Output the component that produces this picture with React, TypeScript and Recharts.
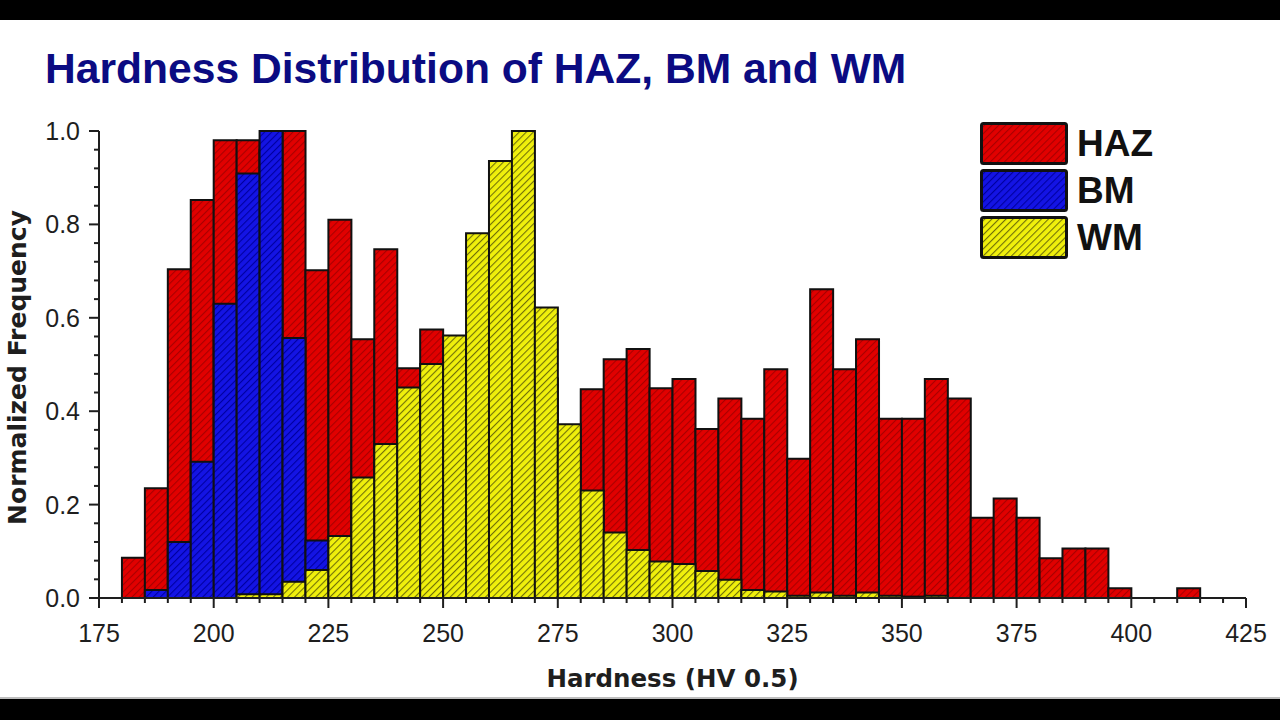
import React from 'react';
import { BarChart, Bar, XAxis, YAxis } from 'recharts';

// bin start values (HV 0.5), 5 HV wide
const bins = [
  175, 180, 185, 190, 195, 200, 205, 210, 215, 220,
  225, 230, 235, 240, 245, 250, 255, 260, 265, 270,
  275, 280, 285, 290, 295, 300, 305, 310, 315, 320,
  325, 330, 335, 340, 345, 350, 355, 360, 365, 370,
  375, 380, 385, 390, 395, 400, 405, 410, 415, 420,
];

const haz = [
  0, 0.086, 0.235, 0.704, 0.852, 0.98, 0.98, 0.96, 1.0, 0.702,
  0.81, 0.554, 0.747, 0.492, 0.575, 0.48, 0.52, 0.55, 0.52, 0.47,
  0.34, 0.447, 0.511, 0.533, 0.449, 0.469, 0.362, 0.427, 0.384, 0.49,
  0.298, 0.661, 0.49, 0.554, 0.384, 0.384, 0.469, 0.427, 0.172, 0.213,
  0.172, 0.085, 0.106, 0.106, 0.021, 0, 0, 0.021, 0, 0,
];

const bm = [
  0, 0, 0.017, 0.12, 0.292, 0.63, 0.909, 1.0, 0.557, 0.123,
  0, 0, 0, 0, 0, 0, 0, 0, 0, 0,
  0, 0, 0, 0, 0, 0, 0, 0, 0, 0,
  0, 0, 0, 0, 0, 0, 0, 0, 0, 0,
  0, 0, 0, 0, 0, 0, 0, 0, 0, 0,
];

const wm = [
  0, 0, 0, 0, 0, 0, 0.008, 0.008, 0.035, 0.06,
  0.133, 0.258, 0.33, 0.451, 0.501, 0.562, 0.781, 0.936, 1.0, 0.622,
  0.372, 0.23, 0.14, 0.103, 0.078, 0.073, 0.058, 0.039, 0.017, 0.014,
  0.005, 0.012, 0.005, 0.012, 0.005, 0.003, 0.005, 0, 0, 0,
  0, 0, 0, 0, 0, 0, 0, 0, 0, 0,
];

const xTicks = [
  175, 180, 185, 190, 195, 200, 205, 210, 215, 220, 225, 230, 235, 240, 245, 250,
  255, 260, 265, 270, 275, 280, 285, 290, 295, 300, 305, 310, 315, 320, 325, 330,
  335, 340, 345, 350, 355, 360, 365, 370, 375, 380, 385, 390, 395, 400, 405, 410,
  415, 420, 425,
];
const xMajor = [175, 200, 225, 250, 275, 300, 325, 350, 375, 400, 425];

const yTicks = [
  0, 0.04, 0.08, 0.12, 0.16, 0.2, 0.24, 0.28, 0.32, 0.36, 0.4, 0.44, 0.48,
  0.52, 0.56, 0.6, 0.64, 0.68, 0.72, 0.76, 0.8, 0.84, 0.88, 0.92, 0.96, 1.0,
];
const yMajor = [0, 0.2, 0.4, 0.6, 0.8, 1.0];

const series = [
  { key: 'haz', name: 'HAZ', fill: '#e10000', stripe: '#a80000' },
  { key: 'bm', name: 'BM', fill: '#1414e4', stripe: '#0000a0' },
  { key: 'wm', name: 'WM', fill: '#f0f00c', stripe: '#707008' },
];

const data = bins.map((b, i) => ({
  bin: b,
  center: b + 2.5,
  haz: haz[i],
  bm: bm[i],
  wm: wm[i],
}));

const FONT = '"Liberation Sans", Arial, Helvetica, sans-serif';
const WIDE = '"DejaVu Sans", Verdana, sans-serif';
const INK = '#1e1e1e';

const XTick = (props: any) => {
  const { x, y, payload } = props;
  const major = xMajor.includes(payload.value);
  return (
    <g>
      <line x1={x} x2={x} y1={y} y2={y + (major ? 10 : 5)} stroke={INK} strokeWidth={2} />
      {major && (
        <text x={x} y={y + 44} textAnchor="middle" fontSize={25} fill={INK} fontFamily={FONT}>
          {payload.value}
        </text>
      )}
    </g>
  );
};

const YTick = (props: any) => {
  const { x, y, payload } = props;
  const major = yMajor.some((v) => Math.abs(v - payload.value) < 1e-6);
  return (
    <g>
      <line x1={x} x2={x - (major ? 10 : 5)} y1={y} y2={y} stroke={INK} strokeWidth={2} />
      {major && (
        <text x={x - 19} y={y + 9} textAnchor="end" fontSize={25} fill={INK} fontFamily={FONT}>
          {payload.value.toFixed(1)}
        </text>
      )}
    </g>
  );
};

const LegendBoxes = () => (
  <div
    style={{
      position: 'absolute',
      left: 980,
      top: 122,
      display: 'flex',
      flexDirection: 'column',
      gap: 4,
    }}
  >
    {series.map((s) => (
      <div key={s.key} style={{ display: 'flex', alignItems: 'center', height: 43 }}>
        <svg width={88} height={43} style={{ display: 'block' }}>
          <rect x={1.5} y={1.5} width={85} height={40} fill={`url(#hatch-${s.key})`} stroke="#111" strokeWidth={3} rx={2} />
        </svg>
        <span
          style={{
            fontFamily: FONT,
            fontWeight: 'bold',
            fontSize: 37,
            color: '#111',
            marginLeft: 9,
            lineHeight: '43px',
          }}
        >
          {s.name}
        </span>
      </div>
    ))}
  </div>
);

export default function App() {
  return (
    <div style={{ position: 'fixed', left: 0, top: 0, width: 1280, height: 720, background: '#000' }}>
      <div
        style={{
          position: 'absolute',
          left: 0,
          top: 20,
          width: 1280,
          height: 677,
          background: '#fff',
          borderBottom: '2px solid #bdbdbd',
        }}
      />
      <div
        style={{
          position: 'absolute',
          left: 45,
          top: 47,
          fontFamily: FONT,
          fontWeight: 'bold',
          fontSize: 42.6,
          lineHeight: '42px',
          color: '#0b0b82',
          whiteSpace: 'nowrap',
        }}
      >
        Hardness Distribution of HAZ, BM and WM
      </div>
      <div style={{ position: 'absolute', left: 0, top: 0 }}>
        <BarChart
          width={1280}
          height={720}
          data={data}
          margin={{ top: 131, right: 34, left: 39, bottom: 82 }}
          barCategoryGap={0}
          barGap={0}
        >
          <defs>
            {series.map((s) => (
              <pattern
                key={s.key}
                id={`hatch-${s.key}`}
                patternUnits="userSpaceOnUse"
                width={5}
                height={5}
                patternTransform="rotate(45)"
              >
                <rect width={5} height={5} fill={s.fill} />
                <line x1={0} y1={0} x2={0} y2={5} stroke={s.stripe} strokeWidth={2.2} />
              </pattern>
            ))}
          </defs>
          <XAxis
            xAxisId="num"
            dataKey="center"
            type="number"
            domain={[175, 425]}
            ticks={xTicks}
            interval={0}
            allowDataOverflow
            height={40}
            tickSize={0}
            tickMargin={0}
            tick={<XTick />}
            axisLine={{ stroke: INK, strokeWidth: 2 }}
            label={({ viewBox }: any) => (
              <text
                x={viewBox.x + viewBox.width / 2}
                y={viewBox.y + 89}
                textAnchor="middle"
                fontSize={24.5}
                fontWeight="bold"
                fill={INK}
                fontFamily={WIDE}
              >
                Hardness (HV 0.5)
              </text>
            )}
          />
          <XAxis xAxisId="haz" dataKey="bin" type="category" hide height={0} />
          <XAxis xAxisId="bm" dataKey="bin" type="category" hide height={0} />
          <XAxis xAxisId="wm" dataKey="bin" type="category" hide height={0} />
          <YAxis
            type="number"
            domain={[0, 1]}
            ticks={yTicks}
            interval={0}
            width={60}
            tickSize={0}
            tickMargin={0}
            tick={<YTick />}
            axisLine={{ stroke: INK, strokeWidth: 2 }}
            label={({ viewBox }: any) => {
              const cx = viewBox.x - 13;
              const cy = viewBox.y + viewBox.height / 2 + 3;
              return (
                <text
                  x={cx}
                  y={cy}
                  transform={`rotate(-90 ${cx} ${cy})`}
                  textAnchor="middle"
                  fontSize={25}
                  fontWeight="bold"
                  fill={INK}
                  fontFamily={WIDE}
                >
                  Normalized Frequency
                </text>
              );
            }}
          />
          {series.map((s) => (
            <Bar
              key={s.key}
              xAxisId={s.key}
              dataKey={s.key}
              name={s.name}
              fill={`url(#hatch-${s.key})`}
              stroke="#111"
              strokeWidth={2}
              isAnimationActive={false}
            />
          ))}
        </BarChart>
      </div>
      <LegendBoxes />
    </div>
  );
}
